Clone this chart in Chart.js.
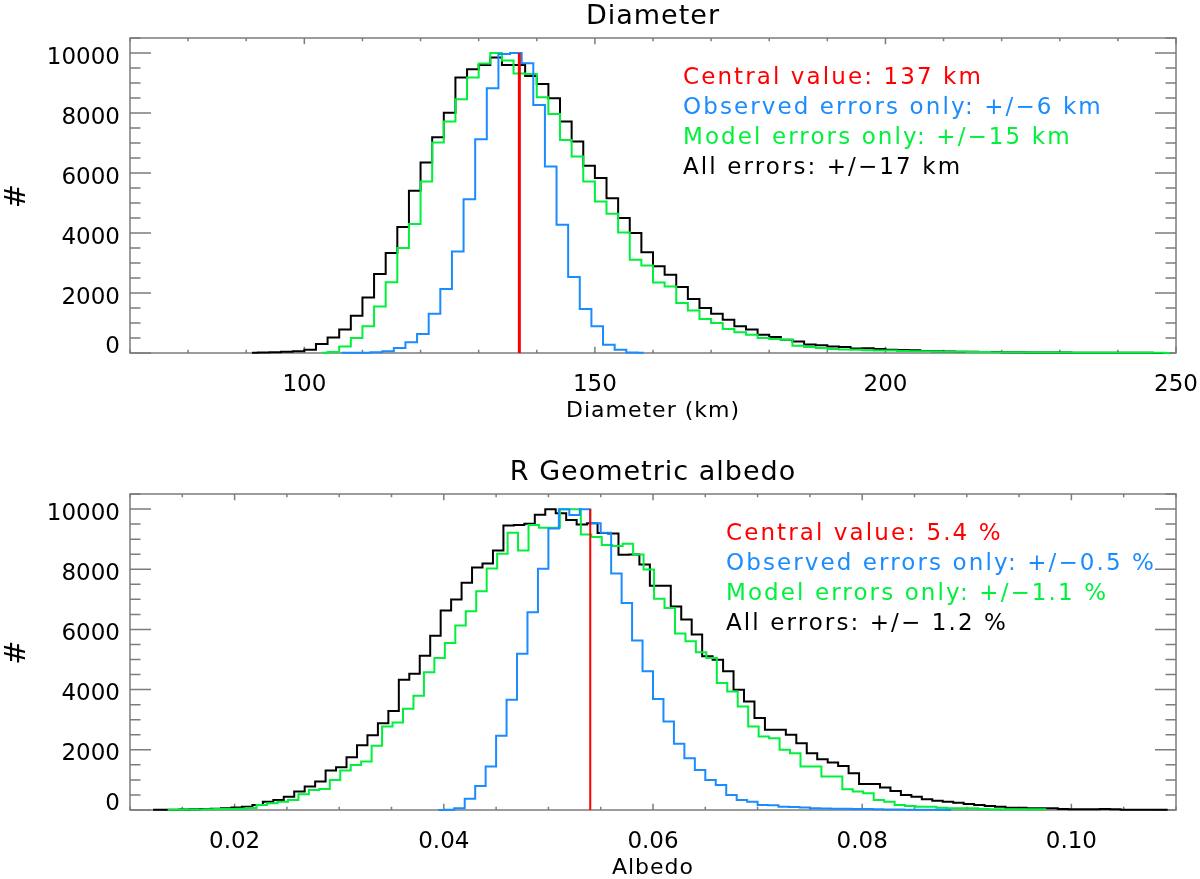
<!DOCTYPE html>
<html>
<head>
<meta charset="utf-8">
<script src="https://cdn.jsdelivr.net/npm/chart.js@4.4.0/dist/chart.umd.min.js"></script>
<style>
  html, body { margin: 0; padding: 0; background: #fff; }
  #wrap { position: relative; width: 1200px; height: 879px; }
  canvas { position: absolute; left: 0; }
</style>
</head>
<body>
<div id="wrap">
  <canvas id="diam" width="1200" height="440" style="top:0"></canvas>
  <canvas id="albedo" width="1200" height="439" style="top:440px"></canvas>
</div>
<script>
// ---- values (histogram counts at bin centres) ----

// Diameter: 2 km bins
const diamBin = 2;
const diamAllFirst = 91;      // all errors (black)
const diamAll = [
  10, 15, 25, 45, 55, 110, 300, 520, 780, 1240,
  1850, 2630, 3330, 4200, 5410, 6350, 7190, 8010, 9180, 9460,
  9600, 9850, 9600, 9600, 9230, 8970, 8490, 7720, 7050, 6240,
  5830, 5160, 4500, 4000, 3360, 2890, 2610, 2200, 1800, 1500,
  1310, 1110, 890, 780, 610, 530, 440, 380, 280, 255,
  220, 200, 150, 160, 130, 110, 100, 90, 70, 60,
  50, 45, 40, 35, 30, 25, 25, 20, 20, 15,
  15, 10, 10, 8, 8, 6, 5, 5, 4, 3
];
const diamModelFirst = 103;   // model errors only (green)
const diamModel = [
  10, 30, 220, 500, 890, 1550, 2360, 3500, 4300, 5720,
  7015, 7715, 8460, 9180, 9650, 10000, 9750, 9320, 9300, 8525,
  7970, 7100, 6550, 5720, 5050, 4640, 4020, 3110, 2920, 2350,
  2220, 1665, 1420, 1130, 1000, 800, 690, 610, 500, 470,
  440, 245, 200, 170, 135, 120, 110, 90, 85, 80,
  70, 60, 55, 50, 45, 40, 35, 30, 28, 25,
  22, 20, 18, 15, 14, 12, 10, 10, 8, 8,
  6, 6, 5, 4
];
const diamObsFirst = 106.4;   // observed errors only (blue)
const diamObs = [
  5, 8, 12, 22, 55, 166, 355, 633, 1310, 2131,
  3386, 5128, 7126, 8825, 9968, 10000, 9657, 8270, 6216, 4274,
  2531, 1465, 888, 278, 111, 20, 5
];
const diamCentral = 137;

// Albedo: 0.001 bins
const albBin = 0.001;
const albAllFirst = 0.0122;
const albAll = [
  5, 8, 12, 18, 25, 35, 45, 60, 80, 111,
  166, 278, 333, 444, 611, 777, 944, 1310, 1421, 1754,
  2153, 2486, 2886, 3286, 4329, 4529, 5128, 5794, 6627, 6993,
  7548, 8059, 8192, 8625, 9450, 9470, 9513, 9810, 9990, 9860,
  9640, 9490, 9530, 9200, 9190, 8480, 8490, 8160, 7450, 7450,
  6760, 6327, 5828, 5106, 4995, 4607, 3996, 3608, 3053, 2664,
  2664, 2498, 2220, 1887, 1687, 1576, 1465, 1221, 866, 866,
  744, 633, 500, 444, 355, 311, 278, 244, 200, 167,
  133, 111, 78, 78, 55, 55, 55, 33, 22, 22,
  22, 33, 22, 11, 10, 8, 6, 5
];
const albModelFirst = 0.0136;
const albModel = [
  10, 12, 15, 20, 25, 30, 35, 45, 70, 166,
  222, 278, 333, 522, 666, 700, 999, 1310, 1499, 1610,
  2131, 2775, 2908, 3363, 3796, 4573, 5051, 5550, 6127, 6605,
  7271, 8025, 8514, 9213, 8625, 9468, 9380, 9380, 9990, 9990,
  9158, 9069, 8802, 8769, 8847, 8492, 7992, 7020, 6716, 5861,
  5606, 5239, 5051, 4218, 3941, 3441, 2775, 2442, 2387, 1998,
  1887, 1443, 1443, 1110, 1110, 688, 611, 555, 333, 278,
  167, 133, 111, 111, 78, 55, 55, 55, 33, 22,
  22, 22, 22, 22, 22
];
const albObsFirst = 0.0395;
const albObs = [
  3, 10, 55, 377, 799, 1443, 2464, 3663, 5195, 6571,
  8014, 9350, 9990, 9800, 9990, 9530, 9213, 7860, 6882, 5628,
  4607, 3685, 2942, 2198, 1721, 1332, 999, 833, 500, 333,
  278, 167, 160, 111, 100, 80, 60, 50, 45, 40,
  35, 30, 25, 20, 15, 12, 10, 8, 5, 3
];
const albCentral = 0.054;

const countMax = 10000;

const diamNotes = ['Central value: 137 km', 'Observed errors only: +/\u22126 km',
                   'Model errors only: +/\u221215 km', 'All errors: +/\u221217 km'];
const albNotes = ['Central value: 5.4 %', 'Observed errors only: +/\u22120.5 %',
                  'Model errors only: +/\u22121.1 %', 'All errors: +/\u2212 1.2 %'];

const RED = '#ff0000', BLUE = '#1a8cff', GREEN = '#00f03c', BLACK = '#000000';
const noteColors = [RED, BLUE, GREEN, BLACK];
const FONT = '"DejaVu Sans", sans-serif';
const FRAME = '#7c7c7c';

function binPoints(first, width, values) {
  return values.map((v, i) => ({ x: first + i * width, y: v }));
}

// IDL-like box with inward ticks on all four sides, plus all the texts
const idlAxes = {
  id: 'idlAxes',
  beforeDatasetsDraw(chart, args, o) {
    const { ctx, chartArea: a, scales: { x, y } } = chart;
    ctx.save();
    ctx.strokeStyle = FRAME;
    ctx.lineWidth = 1.5;
    ctx.beginPath();
    x.ticks.forEach(t => {
      const px = x.getPixelForValue(t.value);
      const len = o.xMajor(t.value) ? 6.3 : 3.2;
      ctx.moveTo(px, a.bottom); ctx.lineTo(px, a.bottom - len);
      ctx.moveTo(px, a.top); ctx.lineTo(px, a.top + len);
    });
    y.ticks.forEach(t => {
      const py = y.getPixelForValue(t.value);
      const len = t.value % 2000 === 0 ? 21 : 10.5;
      ctx.moveTo(a.left, py); ctx.lineTo(a.left + len, py);
      ctx.moveTo(a.right, py); ctx.lineTo(a.right - len, py);
    });
    ctx.stroke();
    ctx.strokeRect(a.left, a.top, a.right - a.left, a.bottom - a.top);
    ctx.restore();
  },
  afterDraw(chart, args, o) {
    const { ctx, chartArea: a, scales: { x, y } } = chart;
    const midX = (a.left + a.right) / 2;
    ctx.save();
    ctx.fillStyle = BLACK;
    ctx.textBaseline = 'alphabetic';

    // tick labels
    ctx.font = '23px ' + FONT;
    ctx.textAlign = 'center';
    x.ticks.forEach(t => {
      if (!o.xMajor(t.value)) return;
      ctx.fillText(o.xFmt(t.value), x.getPixelForValue(t.value), a.bottom + 37.5);
    });
    ctx.textAlign = 'right';
    y.ticks.forEach(t => {
      if (t.value % 2000 !== 0) return;
      const base = Math.min(y.getPixelForValue(t.value) + 10.5, a.bottom);
      ctx.fillText(String(t.value), a.left - 10, base);
    });

    // titles
    ctx.textAlign = 'center';
    ctx.letterSpacing = '1px';
    ctx.font = '27px ' + FONT;
    ctx.fillText(o.title, midX, a.top - 14);
    ctx.font = '22px ' + FONT;
    ctx.fillText(o.xTitle, midX, a.bottom + 63.5);
    ctx.save();
    ctx.translate(17, (a.top + a.bottom) / 2);
    ctx.rotate(-Math.PI / 2);
    ctx.textBaseline = 'middle';
    ctx.font = '29px ' + FONT;
    ctx.fillText('#', 0, 0);
    ctx.restore();

    // annotation block
    ctx.textAlign = 'left';
    ctx.letterSpacing = '2.1px';
    ctx.font = '23px ' + FONT;
    o.notes.forEach((txt, i) => {
      ctx.fillStyle = noteColors[i];
      ctx.fillText(txt, a.left + o.noteX, a.top + o.noteY + i * 30);
    });
    ctx.letterSpacing = '0px';
    ctx.restore();
  }
};

function histLine(label, color, points) {
  return {
    label, data: points, borderColor: color, borderWidth: 2,
    stepped: 'middle', pointRadius: 0, fill: false, clip: false,
    borderJoinStyle: 'miter'
  };
}

function makeChart(id, cfg) {
  return new Chart(document.getElementById(id), {
    type: 'line',
    data: {
      datasets: [
        {
          label: 'Central value', data: [{ x: cfg.central, y: 0 }, { x: cfg.central, y: countMax }],
          borderColor: RED, borderWidth: cfg.redWidth, pointRadius: 0, clip: false
        },
        histLine('Observed errors only', BLUE, cfg.obs),
        histLine('Model errors only', GREEN, cfg.model),
        histLine('All errors', BLACK, cfg.all)
      ]
    },
    options: {
      responsive: false,
      animation: false,
      events: [],
      layout: { padding: { top: cfg.padTop, right: 24, left: 0, bottom: 0 } },
      scales: {
        x: {
          type: 'linear', min: cfg.xMin, max: cfg.xMax,
          grid: { display: false, drawTicks: false }, border: { display: false },
          ticks: { display: false, stepSize: cfg.xStep },
          afterFit: s => { s.height = cfg.xAxisHeight; }
        },
        y: {
          type: 'linear', min: 0, max: 10500,
          grid: { display: false, drawTicks: false }, border: { display: false },
          ticks: { display: false, stepSize: 500 },
          afterFit: s => { s.width = 130; }
        }
      },
      plugins: {
        legend: { display: false },
        title: { display: false },
        tooltip: { enabled: false },
        idlAxes: {
          title: cfg.title, xTitle: cfg.xTitle, notes: cfg.notes,
          noteX: cfg.noteX, noteY: cfg.noteY,
          xMajor: cfg.xMajor, xFmt: cfg.xFmt
        }
      }
    },
    plugins: [idlAxes]
  });
}

makeChart('diam', {
  title: 'Diameter', xTitle: 'Diameter (km)', notes: diamNotes,
  central: diamCentral, redWidth: 3,
  all: binPoints(diamAllFirst, diamBin, diamAll),
  model: binPoints(diamModelFirst, diamBin, diamModel),
  obs: binPoints(diamObsFirst, diamBin, diamObs),
  xMin: 70, xMax: 250, xStep: 10,
  xMajor: v => Math.round(v) % 50 === 0,
  xFmt: v => String(Math.round(v)),
  padTop: 38, xAxisHeight: 87,
  noteX: 553, noteY: 45.5
});

makeChart('albedo', {
  title: 'R Geometric albedo', xTitle: 'Albedo', notes: albNotes,
  central: albCentral, redWidth: 2,
  all: binPoints(albAllFirst, albBin, albAll),
  model: binPoints(albModelFirst, albBin, albModel),
  obs: binPoints(albObsFirst, albBin, albObs),
  xMin: 0.01, xMax: 0.11, xStep: 0.005,
  xMajor: v => Math.round(v * 1000) % 20 === 0,
  xFmt: v => v.toFixed(2),
  padTop: 54, xAxisHeight: 69,
  noteX: 596, noteY: 46
});
</script>
</body>
</html>
